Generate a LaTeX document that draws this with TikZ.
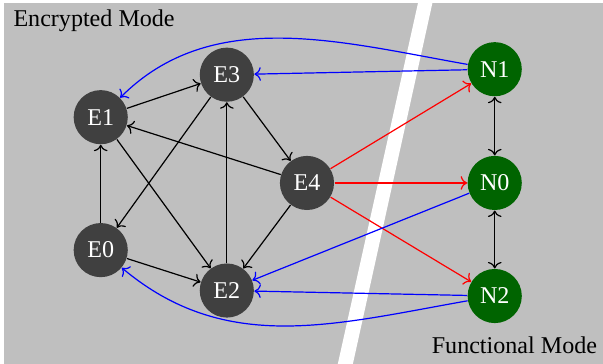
\documentclass[tikz,border=0pt]{standalone}
\usepackage{fontspec}
\setmainfont{Liberation Serif}
\usepackage{xcolor}
\usetikzlibrary{arrows.meta, positioning}
\definecolor{modebg}{gray}{0.75}
\definecolor{encfill}{gray}{0.25}
\definecolor{funfill}{RGB}{0,100,0}
\tikzset{
  enc/.style = {
    circle, fill=encfill, text=white,
    minimum size=0.79cm, inner sep=0pt
  },
  fun/.style = {
    circle, fill=funfill, text=white,
    minimum size=0.79cm, inner sep=0pt
  },
  modelabel/.style = {inner sep=0pt, font=\normalsize}
}

\begin{document}
\begin{tikzpicture}[
  arr/.style={->, line width=0.5pt},
  barr/.style={->, line width=0.5pt, blue},
  rarr/.style={->, line width=0.5pt, red}
]
\useasboundingbox (0,0) rectangle (8.80,5.31);

%% ── Background: the two modes ───────────────────────
\fill[modebg] (0.058,0) rectangle (8.80,5.267);
\fill[white] (6.11,5.31) -- (6.32,5.31) -- (5.15,0) -- (4.93,0) -- cycle;

\node[modelabel, anchor=base west] (enclabel) at (0.19,4.92)
  {Encrypted Mode};
\node[modelabel, anchor=base east] (funlabel) at (8.72,0.15)
  {Functional Mode};

%% ── Encrypted nodes ─────────────────────────────────
\node[enc] (E1) at (1.47,3.60) {E1};
\node[enc] (E3) at (3.31,4.22) {E3};
\node[enc] (E4) at (4.48,2.64) {E4};
\node[enc] (E0) at (1.47,1.66) {E0};
\node[enc] (E2) at (3.31,1.07) {E2};

%% ── Functional nodes ────────────────────────────────
\node[fun] (N1) at (7.22,4.30) {N1};
\node[fun] (N0) at (7.22,2.64) {N0};
\node[fun] (N2) at (7.22,0.99) {N2};

%% ── Arrows inside the encrypted mode ────────────────
\draw[arr] (E1) -- (E3);
\draw[arr] (E0) -- (E1);
\draw[arr] (E3) -- (E0);
\draw[arr] (E1) -- (E2);
\draw[arr] (E2) -- (E3);
\draw[arr] (E3) -- (E4);
\draw[arr] (E4) -- (E1);
\draw[arr] (E4) -- (E2);
\draw[arr] (E0) -- (E2);

%% ── Arrows inside the functional mode ───────────────
\draw[arr, <->] (N1) -- (N0);
\draw[arr, <->] (N0) -- (N2);

%% ── Between the modes ───────────────────────────────
\draw[rarr] (E4) -- (N1);
\draw[rarr] (E4) -- (N0);
\draw[rarr] (E4) -- (N2);

\draw[barr] (N1) -- (E3);
\draw[barr] (N1) to[out=170, in=45, looseness=0.95] (E1);
\draw[barr] (N0) -- (E2);
\draw[barr] (N2) -- (E2);
\draw[barr] (N2) to[out=190, in=-40] (E0);

\end{tikzpicture}
\end{document}
